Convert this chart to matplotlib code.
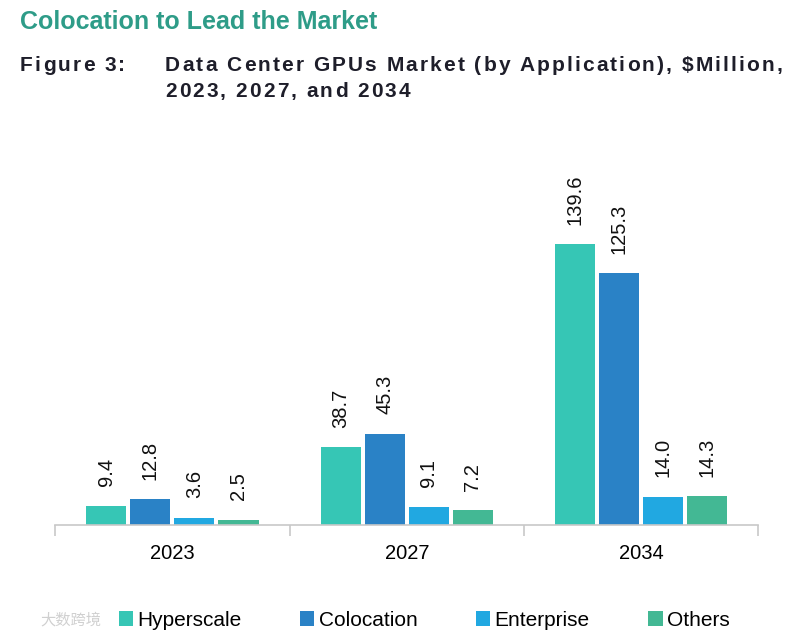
import matplotlib.pyplot as plt
import numpy as np

plt.rcParams['font.family'] = ['Liberation Sans', 'DejaVu Sans']

years = ['2023', '2027', '2034']
series = ['Hyperscale', 'Colocation', 'Enterprise', 'Others']
hyperscale = [9.4, 38.7, 139.6]
colocation = [12.8, 45.3, 125.3]
enterprise = [3.6, 9.1, 14.0]
others = [2.5, 7.2, 14.3]
colors = ['#36C6B5', '#2A82C6', '#21A8E1', '#43B894']

values = [hyperscale, colocation, enterprise, others]

fig = plt.figure(figsize=(8, 6.4), dpi=100)
ax = fig.add_axes([0.069, 0.18, 0.879, 0.565])
renderer = fig.canvas.get_renderer()


def spaced_text(x_px, y, s, spacing, **kw):
    # matplotlib has no letter spacing, so place each character
    probe = fig.text(0, 0, '', **kw)
    for i, ch in enumerate(s):
        probe.set_text(s[:i] if i else '')
        wpx = probe.get_window_extent(renderer).width if i else 0
        fig.text((x_px + wpx + i * spacing) / 800, y, ch, **kw)
    probe.remove()


x = np.arange(len(years))
w = 0.171
step = 0.188
for i, (vals, c, name) in enumerate(zip(values, colors, series)):
    pos = x + (i - 1.5) * step
    bars = ax.bar(pos, vals, width=w, color=c, label=name)
    for b, v in zip(bars, vals):
        ax.annotate(f'{v:.1f}', (b.get_x() + b.get_width() / 2, v),
                    xytext=(0, 14), textcoords='offset points',
                    ha='center', va='bottom', rotation=90, fontsize=14.5,
                    color='#111111')

ax.set_xlim(-0.5, 2.5)
ax.set_ylim(0, 180)
ax.set_yticks([])
for s in ['top', 'right', 'left']:
    ax.spines[s].set_visible(False)
ax.spines['bottom'].set_color('#c8c8c8')
ax.spines['bottom'].set_linewidth(1.2)

# boundary ticks between categories
ax.set_xticks([-0.5, 0.5, 1.5, 2.5])
ax.set_xticklabels([])
ax.tick_params(axis='x', length=8, color='#c8c8c8', width=1.2)
ax.set_xticks(x, minor=True)
ax.set_xticklabels(years, minor=True, fontsize=14.5)
ax.tick_params(axis='x', which='minor', length=0, pad=14)

fig.text(0.025, 0.965, 'Colocation to Lead the Market', fontsize=18,
         fontweight='bold', color='#2E9C88', va='center')
hdr = dict(fontsize=15, fontweight='bold', color='#1E1E2A', va='center')
spaced_text(20, 0.898, 'Figure 3:', 2.1, **hdr)
spaced_text(165, 0.898, 'Data Center GPUs Market (by Application), $Million,',
            2.1, **hdr)
spaced_text(165, 0.857, '2023, 2027, and 2034', 2.1, **hdr)

fig.legend(loc='center', bbox_to_anchor=(0.53, 0.031), ncol=4, frameon=False,
           fontsize=15, handlelength=0.7, handleheight=0.7, handletextpad=0.2,
           columnspacing=2.8)

fig.text(0.05, 0.031, '大数跨境', fontsize=11, color='#d0d0d0', va='center',
         family=['Noto Sans CJK SC', 'DejaVu Sans'])

fig.savefig('out.png', dpi=100)
